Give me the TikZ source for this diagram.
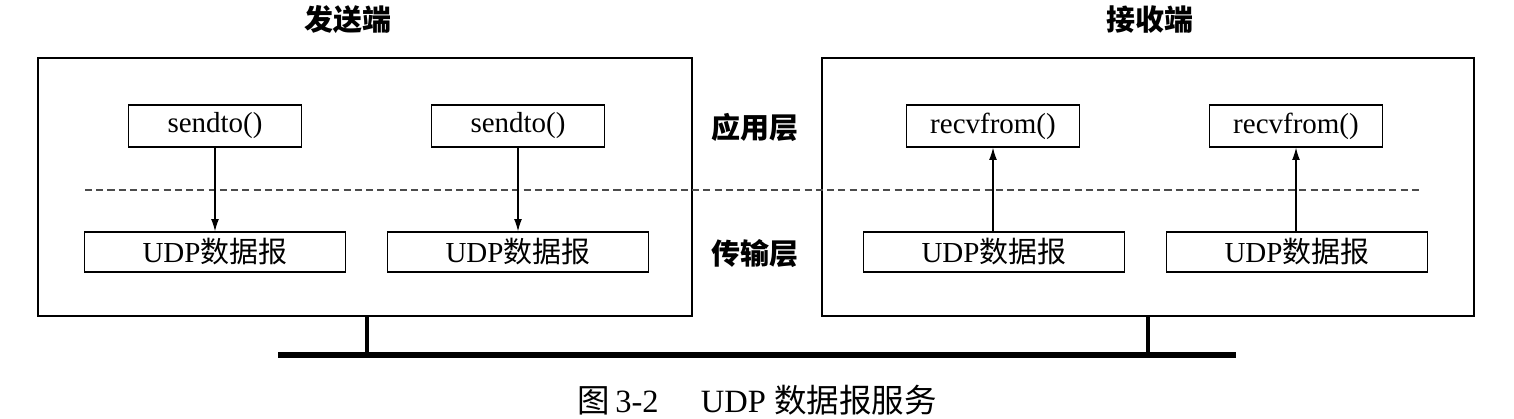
\documentclass[tikz,border=0pt]{standalone}
\usepackage{fontspec}
\setmainfont{Liberation Serif}
\newfontfamily\cjk{Noto Sans CJK SC}
\usetikzlibrary{arrows.meta,positioning}
\tikzset{>=Latex}
\tikzset{
  host/.style={draw,line width=0.8pt,minimum height=5.16cm,inner sep=0pt},
  callbox/.style={draw,line width=0.8pt,minimum width=3.46cm,minimum height=0.84cm,inner sep=0pt,font=\fontsize{16.5}{18}\selectfont},
  udpbox/.style={draw,line width=0.8pt,minimum width=5.22cm,minimum height=0.8cm,inner sep=0pt,font=\fontsize{16.5}{18}\selectfont},
  layername/.style={font=\fontsize{16.5}{18}\selectfont\cjk\bfseries},
  flow/.style={->,line width=0.6pt,>={Latex[length=7pt,width=4.5pt]}},
  busline/.style={line width=3.4pt},
  tap/.style={line width=2pt},
}
\def\udp{UDP{\cjk 数据报}}

\begin{document}
\begin{tikzpicture}[x=0.02cm,y=-0.02cm]
  \useasboundingbox (0,0) rectangle (1514,419);

  %% hosts
  \node[host,minimum width=13.08cm] (send) at (365,187) {};
  \node[host,minimum width=13.04cm] (recv) at (1148,187) {};
  \node[layername] (sendname) at (348,20) {发送端};
  \node[layername] (recvname) at (1150,20) {接收端};

  %% layer split
  \coordinate (dl) at (85,190);
  \coordinate (dr) at (1419,190);
  \draw[black!70,line width=0.8pt,dash pattern=on 4pt off 2.4pt] (dl) -- (dr);
  \node[layername] (app) at (755,127) {应用层};
  \node[layername] (trans) at (755,254) {传输层};

  %% sender side
  \node[callbox] (call1) at (215,126) {sendto()};
  \node[callbox] (call2) at (518,126) {sendto()};
  \node[udpbox] (dgram1) at (215,252) {\udp};
  \node[udpbox] (dgram2) at (518,252) {\udp};
  \draw[flow] (call1) -- (dgram1);
  \draw[flow] (call2) -- (dgram2);

  %% receiver side
  \node[callbox] (call3) at (993,126) {recvfrom()};
  \node[callbox] (call4) at (1296,126) {recvfrom()};
  \node[udpbox] (dgram3) at (994,252) {\udp};
  \node[udpbox] (dgram4) at (1297,252) {\udp};
  \draw[flow] (dgram3.north -| call3) -- (call3);
  \draw[flow] (dgram4.north -| call4) -- (call4);

  %% network
  \coordinate (busl) at (278,355);
  \coordinate (busr) at (1236,355);
  \draw[busline] (busl) -- (busr);
  \draw[tap] ([xshift=0.04cm]send.south) -- ([xshift=0.04cm]send.south |- busl);
  \draw[tap] (recv.south) -- (recv.south |- busl);

  \node[font=\fontsize{18.5}{20}\selectfont] (caption) at (757,400)
    {{\cjk 图}\,3-2\hspace{1.3em}UDP {\cjk 数据报服务}};
\end{tikzpicture}
\end{document}
